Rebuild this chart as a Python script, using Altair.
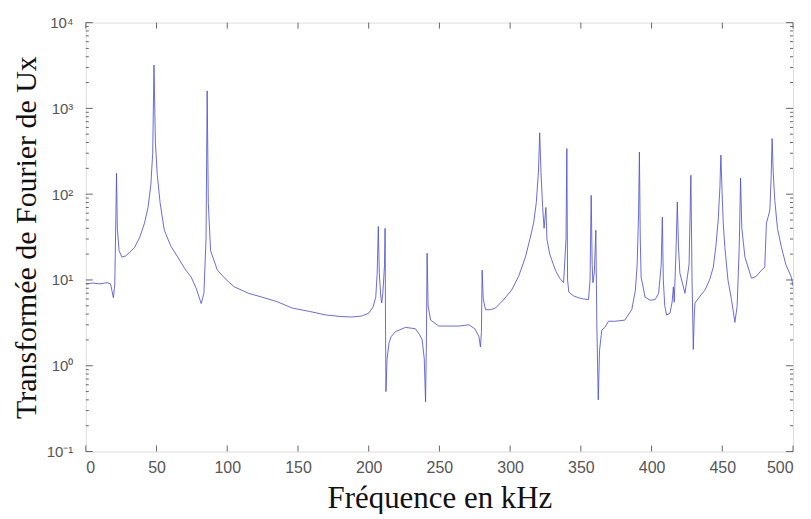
import altair as alt
import pandas as pd

# Spectrum (frequency in kHz, amplitude)
freq = [0, 5, 10, 15, 17.5, 19.5, 20.5, 21.3, 21.7, 22.3, 23.5, 25.5, 28, 31, 34.5, 38, 41.5, 44, 46, 47.3,
        48.2, 49.2, 50.5, 52.5, 55.5, 60, 65, 70, 74.5, 78, 81.6, 83.5, 85, 85.8, 86.6, 88.2, 93, 100, 105, 115,
        126, 135, 146, 158, 170, 180, 188, 195, 200, 203, 205, 206, 206.8, 207.5, 208.5, 209.2, 210, 211.2, 211.6, 211.9,
        212.2, 213, 214.4, 216, 219, 226, 233, 236, 237.8, 239.3, 240.2, 240.8, 241.3, 242, 243.8, 249.6, 256, 263.8, 270.8, 275,
        277.9, 279, 279.7, 280.2, 281, 282.6, 286, 289.6, 295, 301, 306, 310.8, 314, 316.6, 318.5, 320, 320.9, 321.8, 323, 324,
        325.3, 326, 328, 332, 335, 337.8, 339.5, 340.1, 340.6, 341.5, 345, 348.4, 352, 355.4, 356.5, 357.3, 358, 358.5, 359.5, 360.6,
        361.3, 362.3, 363.2, 364.8, 367, 369.5, 374, 381, 386, 388.5, 389.8, 390.8, 391.4, 392, 392.6, 395.4, 399, 402.5, 405, 406.8,
        407.6, 408.3, 409.3, 410.6, 413, 414.5, 415.4, 416, 417.2, 418.2, 419, 420, 423.6, 426.5, 427.8, 428.6, 429.5, 430.2, 430.7, 434,
        437.7, 441, 443.6, 445.5, 447.1, 448.3, 449, 449.8, 450.7, 451.8, 454, 456.5, 458.9, 460.5, 462, 462.9, 463.8, 466, 470.6, 474,
        477.7, 480, 481.2, 482.5, 483.6, 484.5, 485.2, 486, 487.1, 489, 491.8, 495, 498.8, 500]
amp = [9.0, 9.2, 9.0, 9.3, 9.0, 6.2, 9.0, 60, 175, 40, 22, 18.5, 19, 21, 24, 31, 46, 70, 130, 300,
       3200, 400, 170, 80, 38, 25, 18.5, 13.5, 10.8, 8.0, 5.3, 7.0, 30, 1600, 80, 22, 13, 9.8, 8.3, 7.0,
       6.2, 5.6, 4.7, 4.3, 3.9, 3.75, 3.7, 3.8, 4.1, 4.8, 6.3, 12, 42, 12, 6.5, 5.4, 7.0, 15, 40, 3.0,
       0.5, 1.2, 1.86, 2.2, 2.5, 2.8, 2.7, 2.3, 2.0, 1.2, 0.38, 2.0, 20.5, 5.0, 3.4, 2.9, 2.9, 2.9, 3.0, 2.7,
       2.2, 1.66, 2.5, 13, 6.0, 4.5, 4.5, 4.7, 5.8, 7.6, 11, 18.5, 30, 46, 80, 180, 520, 180, 70, 40,
       70, 30, 20, 13, 10.5, 9.3, 30, 340, 10, 7.2, 6.5, 6.2, 6.0, 5.9, 10, 97, 15, 9.3, 12, 38,
       3.0, 0.4, 1.5, 2.6, 2.8, 3.3, 3.3, 3.4, 4.5, 7.5, 15, 60, 310, 30, 10.8, 6.3, 5.8, 5.9, 7.0, 15,
       54, 10, 5.0, 3.9, 4.1, 5.5, 8.3, 5.5, 20, 81, 25, 12, 7.0, 15, 166, 10, 1.55, 4.0, 5.4, 6.4,
       7.6, 10, 14, 25, 50, 120, 285, 110, 45, 24, 10, 5.9, 3.2, 5.0, 25, 154, 40, 18.5, 10.5, 11,
       13, 14, 46, 55, 65, 150, 445, 180, 85, 40, 24, 15, 10.8, 8.5]

x_ticks = [0, 50, 100, 150, 200, 250, 300, 350, 400, 450, 500]
y_ticks = [0.1, 1, 10, 100, 1000, 10000]
y_minor = [m * d for d in [0.1, 1, 10, 100, 1000] for m in range(2, 10)]

W, H = 709, 430
XS = alt.Scale(domain=[0, 500], nice=False)
YS = alt.Scale(type="log", domain=[0.1, 10000], nice=False)

df = pd.DataFrame({"f": freq, "v": amp})

line = alt.Chart(df).mark_line(color="#5252d4", strokeWidth=1, opacity=0.85, clip=True).encode(
    x=alt.X("f:Q", scale=XS, axis=alt.Axis(
        values=x_ticks, title="Fréquence en kHz", domain=False, ticks=False, grid=False,
        labelFont="Liberation Sans", labelFontSize=16, labelColor="#555", labelPadding=8,
        titleFont="Liberation Serif", titleFontSize=31, titleFontWeight="normal", titleColor="#111",
        titlePadding=8)),
    y=alt.Y("v:Q", scale=YS, axis=alt.Axis(
        values=y_ticks, title="Transformée de Fourier de Ux", domain=False, ticks=False, grid=False,
        labelExpr="'10' + ['⁻¹','⁰','¹','²','³','⁴'][round(log(datum.value)/LN10)+1]",
        labelFont="Liberation Sans", labelFontSize=15, labelColor="#555", labelPadding=13,
        titleFont="Liberation Serif", titleFontSize=30, titleFontWeight="normal", titleColor="#111",
        titlePadding=5)),
)

xt = pd.DataFrame({"f": x_ticks})
yt = pd.DataFrame({"v": y_ticks})
ym = pd.DataFrame({"v": y_minor})
tc = "#666"

xb = alt.Chart(xt).mark_rule(color=tc).encode(x=alt.X("f:Q", scale=XS), y=alt.value(H), y2=alt.value(H - 6))
xtp = alt.Chart(xt).mark_rule(color=tc).encode(x=alt.X("f:Q", scale=XS), y=alt.value(0), y2=alt.value(6))
yl = alt.Chart(yt).mark_rule(color=tc).encode(y=alt.Y("v:Q", scale=YS), x=alt.value(0), x2=alt.value(7))
yr = alt.Chart(yt).mark_rule(color=tc).encode(y=alt.Y("v:Q", scale=YS), x=alt.value(W), x2=alt.value(W - 7))
yml = alt.Chart(ym).mark_rule(color=tc).encode(y=alt.Y("v:Q", scale=YS), x=alt.value(0), x2=alt.value(3))
ymr = alt.Chart(ym).mark_rule(color=tc).encode(y=alt.Y("v:Q", scale=YS), x=alt.value(W), x2=alt.value(W - 3))

chart = alt.layer(line, xb, xtp, yl, yr, yml, ymr).properties(
    width=W, height=H,
    padding={"left": 78, "top": 14, "right": 10, "bottom": 62},
    autosize="none",
).configure_view(stroke="#666", strokeWidth=1).configure(background="white")

chart.save("out.html", embed_options={"renderer": "svg", "actions": False})
